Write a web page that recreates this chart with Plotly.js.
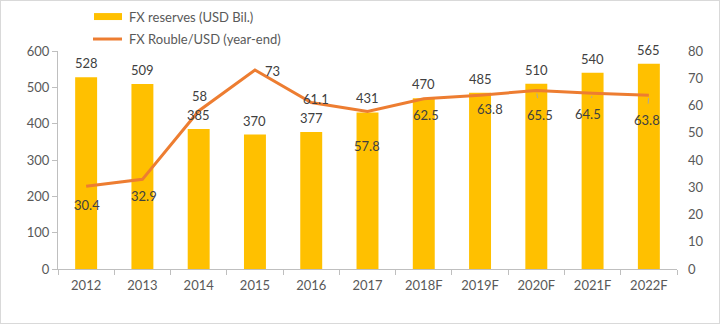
<!DOCTYPE html>
<html><head><meta charset="utf-8">
<script src="https://cdn.plot.ly/plotly-3.0.1.min.js"></script>
<style>body{margin:0;padding:0;background:#fff}#wrap{position:relative;width:720px;height:324px}#frame{position:absolute;left:0;top:0;width:718px;height:322px;border:1px solid #d9d9d9;pointer-events:none}</style>
</head><body>
<div id="wrap"><div id="chart" style="width:720px;height:324px"></div><div id="frame"></div></div>
<script>
const years = ['2012','2013','2014','2015','2016','2017','2018F','2019F','2020F','2021F','2022F'];
const reserves = [528,509,385,370,377,431,470,485,510,540,565];
const rouble = [30.4,32.9,58,73,61.1,57.8,62.5,63.8,65.5,64.5,63.8];
const seriesNames = ['FX reserves (USD Bil.)','FX Rouble/USD (year-end)'];

// label offsets (pixels) for rouble labels, and whether a leader line is drawn
const lblDx = [1,2,1,18,5,-1,2,10,4,-5,-2];
const lblDy = [19,17,-15,1,-4,34,16,14,24,21,25];
const leader = [false,false,false,false,false,false,false,false,true,true,true];

const idx = years.map((_,i)=>i);
const font = 'Lato, "Open Sans", sans-serif';
const txtCol = '#404040';
const axCol = '#595959';
const barCol = '#FFC000', lineCol = '#ED7D31';

const annotations = [];
idx.forEach(i=>{
  annotations.push({x:i, y:reserves[i], xref:'x', yref:'y', text:String(reserves[i]), showarrow:false,
    yanchor:'middle', yshift:14, font:{family:font,size:13,color:txtCol}});
  if (leader[i]) {
    annotations.push({x:i, y:rouble[i], xref:'x', yref:'y2', text:String(rouble[i]), showarrow:true,
      ax:lblDx[i], ay:lblDy[i], arrowhead:0, arrowwidth:1, arrowcolor:'#a6a6a6', standoff:3, startstandoff:7,
      font:{family:font,size:13,color:txtCol}});
  } else {
    annotations.push({x:i, y:rouble[i], xref:'x', yref:'y2', text:String(rouble[i]), showarrow:false,
      xshift:lblDx[i], yshift:-lblDy[i], font:{family:font,size:13,color:txtCol}});
  }
});
// custom legend
annotations.push({xref:'paper', yref:'paper', x:0.1115, y:1.158, xanchor:'left', yanchor:'middle', showarrow:false,
  text:seriesNames[0], font:{family:font,size:13,color:axCol}});
annotations.push({xref:'paper', yref:'paper', x:0.1115, y:1.055, xanchor:'left', yanchor:'middle', showarrow:false,
  text:seriesNames[1], font:{family:font,size:13,color:axCol}});
const shapes = [
  {type:'rect', xref:'paper', yref:'paper', x0:0.0582, x1:0.1034, y0:1.142, y1:1.174, fillcolor:barCol, line:{width:0}},
  {type:'line', xref:'paper', yref:'paper', x0:0.0565, x1:0.1034, y0:1.055, y1:1.055, line:{color:lineCol, width:3}}
];

const traces = [
  {type:'bar', x:idx, y:reserves, name:seriesNames[0], marker:{color:barCol}, width:0.39, hoverinfo:'none'},
  {type:'scatter', mode:'lines', x:idx, y:rouble, yaxis:'y2', name:seriesNames[1],
   line:{color:lineCol, width:3}, hoverinfo:'none'}
];

const layout = {
  width:720, height:324,
  margin:{l:58, r:43, t:51, b:55},
  paper_bgcolor:'#fff', plot_bgcolor:'#fff',
  font:{family:font, size:13, color:axCol},
  showlegend:false,
  xaxis:{type:'linear', range:[-0.5,10.5], tickmode:'array', tickvals:idx, ticktext:years, ticks:'',
    showline:true, linecolor:'#bfbfbf', linewidth:1, showgrid:false, zeroline:false, ticklabelstandoff:4,
    minor:{tickmode:'linear', tick0:-0.5, dtick:1, ticks:'outside', ticklen:5, tickcolor:'#bfbfbf', showgrid:false},
    tickfont:{family:font,size:13,color:axCol}, fixedrange:true, automargin:false},
  yaxis:{range:[0,600], dtick:100, showline:true, linecolor:'#bfbfbf', ticks:'outside', ticklen:5, tickcolor:'#bfbfbf',
    showgrid:false, zeroline:false, tickfont:{family:font,size:13,color:axCol}, fixedrange:true, automargin:false},
  yaxis2:{range:[0,80], dtick:10, overlaying:'y', side:'right', showline:false, showgrid:false, zeroline:false,
    ticks:'', ticklabelstandoff:10, tickfont:{family:font,size:13,color:axCol}, fixedrange:true, automargin:false},
  annotations:annotations,
  shapes:shapes
};
Plotly.newPlot('chart', traces, layout, {displayModeBar:false, staticPlot:true});
</script>
</body></html>
